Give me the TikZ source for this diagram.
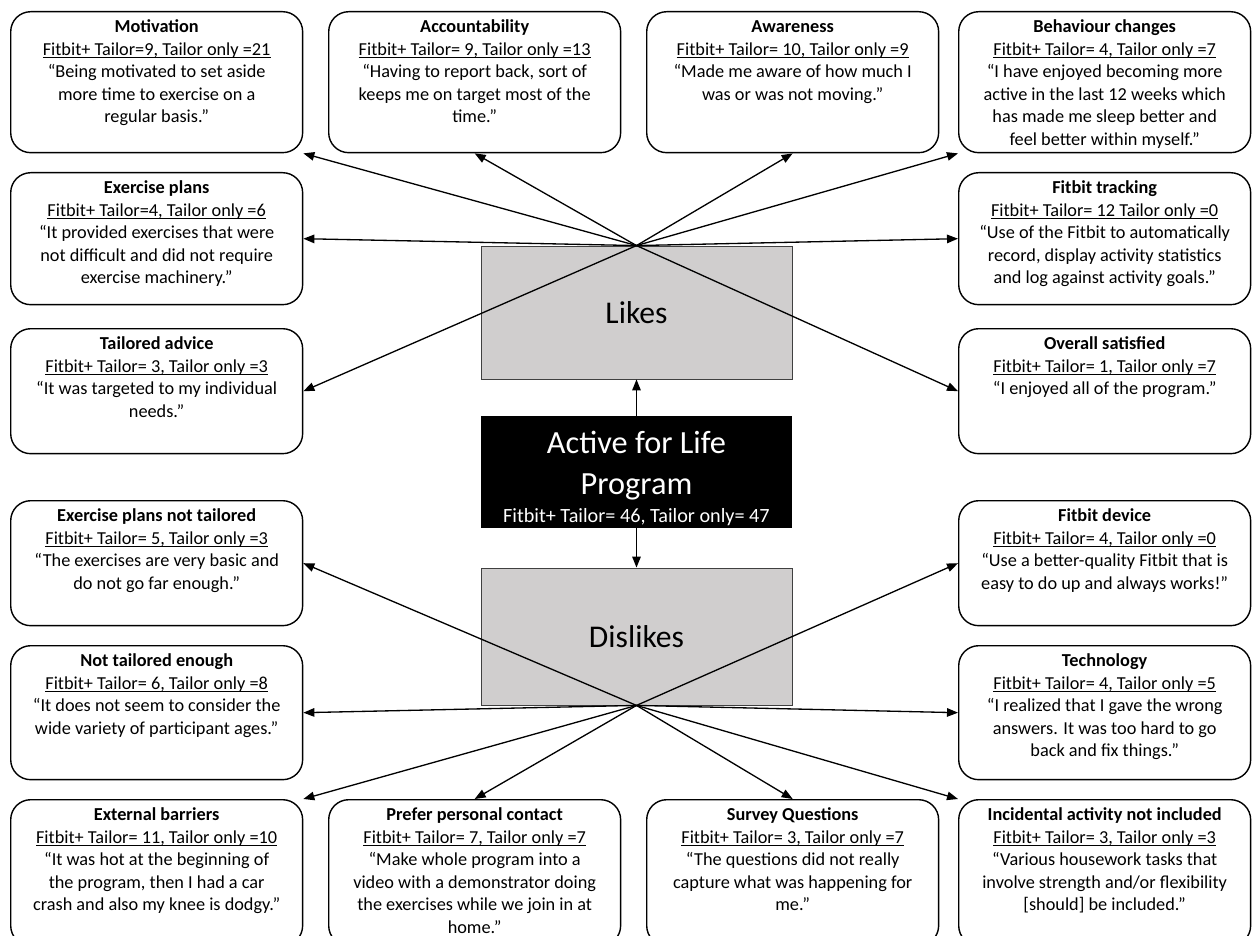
\documentclass[tikz,border=0pt]{standalone}
\usepackage{fontspec}
\setmainfont{Carlito}
\usepackage{tikz}
\usetikzlibrary{arrows.meta}
\definecolor{hubgray}{RGB}{208,206,206}
\newcommand{\countline}[1]{\leavevmode{\setbox0\hbox{#1}\rlap{\rule[-1.8pt]{\wd0}{0.55pt}}\box0}}
\newcommand{\cardbody}[4]{\parbox[c][#1][t]{5.84cm}{\centering\textbf{\rule{0pt}{12pt}#2}\\\countline{#3}\\#4}}
\tikzset{
  card/.style={draw, line width=0.8pt, rounded corners=0.4cm, inner sep=0pt, anchor=north west,
    font=\fontsize{10.4}{12.8}\selectfont},
  hub/.style={draw=black!75, line width=0.5pt, fill=hubgray, minimum width=6.22cm,
    font=\fontsize{18}{22}\selectfont},
  link/.style={-{Triangle[length=2.2mm,width=1.7mm]}, line width=0.75pt}
}

\begin{document}
\begin{tikzpicture}[x=0.02cm, y=-0.02cm]
  \clip (0,0) rectangle (1252,936);
  % centre
  \node[hub, minimum height=2.66cm] (likes) at (636.5,312.5) {Likes};
  \node[fill=black, text=white, minimum width=6.22cm, minimum height=2.24cm, inner ysep=0pt, align=center,
    font=\fontsize{18.4}{23}\selectfont] (prog) at (636.5,472)
    {\rule{0pt}{20pt}Active for Life\\Program\\[-7pt]{\fontsize{11.5}{14}\selectfont Fitbit+ Tailor= 46, Tailor only= 47}};
  \node[hub, minimum height=2.74cm] (dislikes) at (636.5,636.5) {Dislikes};
  % likes
  \node[card] (mot) at (10,11) {\cardbody{2.82cm}{Motivation}{Fitbit+ Tailor=9, Tailor only =21}
    {“Being motivated to set aside\\more time to exercise on a\\regular basis.”}};
  \node[card] (acc) at (328,11) {\cardbody{2.82cm}{Accountability}{Fitbit+ Tailor= 9, Tailor only =13}
    {“Having to report back, sort of\\keeps me on target most of the\\time.”}};
  \node[card] (awa) at (646,11) {\cardbody{2.82cm}{Awareness}{Fitbit+ Tailor= 10, Tailor only =9}
    {“Made me aware of how much I\\was or was not moving.”}};
  \node[card] (beh) at (958,11) {\cardbody{2.82cm}{Behaviour changes}{Fitbit+ Tailor= 4, Tailor only =7}
    {“I have enjoyed becoming more\\active in the last 12 weeks which\\has made me sleep better and\\feel better within myself.”}};
  \node[card] (exp) at (10,172) {\cardbody{2.64cm}{Exercise plans}{Fitbit+ Tailor=4, Tailor only =6}
    {“It provided exercises that were\\not difficult and did not require\\exercise machinery.”}};
  \node[card] (trk) at (958,172) {\cardbody{2.64cm}{Fitbit tracking}{Fitbit+ Tailor= 12 Tailor only =0}
    {“Use of the Fitbit to automatically\\record, display activity statistics\\and log against activity goals.”}};
  \node[card] (tai) at (10,328) {\cardbody{2.5cm}{Tailored advice}{Fitbit+ Tailor= 3, Tailor only =3}
    {“It was targeted to my individual\\needs.”}};
  \node[card] (ove) at (958,328) {\cardbody{2.5cm}{Overall satisfied}{Fitbit+ Tailor= 1, Tailor only =7}
    {“I enjoyed all of the program.”}};
  % dislikes
  \node[card] (ept) at (10,500) {\cardbody{2.5cm}{Exercise plans not tailored}{Fitbit+ Tailor= 5, Tailor only =3}
    {“The exercises are very basic and\\do not go far enough.”}};
  \node[card] (dev) at (958,500) {\cardbody{2.5cm}{Fitbit device}{Fitbit+ Tailor= 4, Tailor only =0}
    {“Use a better-quality Fitbit that is\\easy to do up and always works!”}};
  \node[card] (nte) at (10,645) {\cardbody{2.68cm}{Not tailored enough}{Fitbit+ Tailor= 6, Tailor only =8}
    {“It does not seem to consider the\\wide variety of participant ages.”}};
  \node[card] (tec) at (958,645) {\cardbody{2.68cm}{Technology}{Fitbit+ Tailor= 4, Tailor only =5}
    {“I realized that I gave the wrong\\answers. It was too hard to go\\back and fix things.”}};
  \node[card] (ext) at (10,799) {\cardbody{2.92cm}{External barriers}{Fitbit+ Tailor= 11, Tailor only =10}
    {“It was hot at the beginning of\\the program, then I had a car\\crash and also my knee is dodgy.”}};
  \node[card] (ppc) at (328,799) {\cardbody{2.92cm}{Prefer personal contact}{Fitbit+ Tailor= 7, Tailor only =7}
    {“Make whole program into a\\video with a demonstrator doing\\the exercises while we join in at\\home.”}};
  \node[card] (sur) at (646,799) {\cardbody{2.92cm}{Survey Questions}{Fitbit+ Tailor= 3, Tailor only =7}
    {“The questions did not really\\capture what was happening for\\me.”}};
  \node[card] (inc) at (958,799) {\cardbody{2.92cm}{Incidental activity not included}{Fitbit+ Tailor= 3, Tailor only =3}
    {“Various housework tasks that\\involve strength and/or flexibility\\{}[should] be included.”}};
  % connectors
  \draw[link] (prog.north) -- (likes.south);
  \draw[link] (prog.south) -- (dislikes.north);
  \foreach \t in {mot.south east, acc.south, awa.south, beh.south west, exp.east, trk.west, tai.east, ove.west}
    \draw[link] (likes.north) -- (\t);
  \foreach \t in {ept.east, dev.west, nte.east, tec.west, ext.north east, ppc.north, sur.north, inc.north west}
    \draw[link] (dislikes.south) -- (\t);
\end{tikzpicture}
\end{document}
